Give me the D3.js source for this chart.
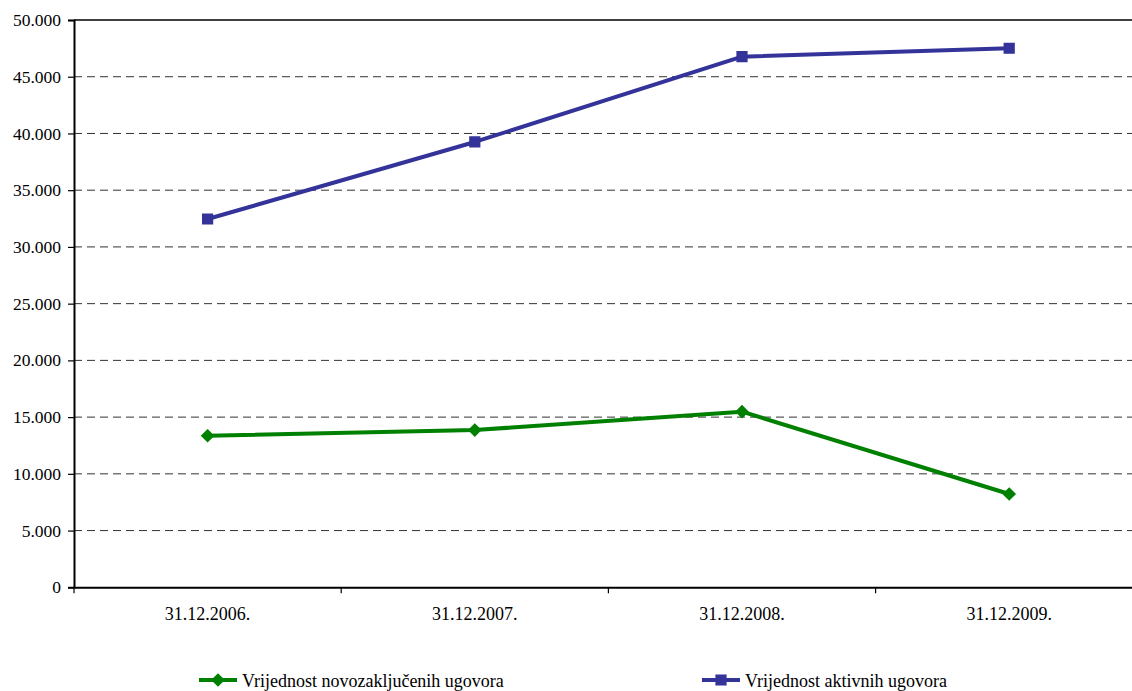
<!DOCTYPE html>
<html>
<head>
<meta charset="utf-8">
<script src="https://cdn.jsdelivr.net/npm/d3@7"></script>
<style>
  html, body { margin: 0; padding: 0; background: #fff; }
  svg { display: block; }
</style>
</head>
<body>
<svg id="chart" width="1132" height="691"></svg>
<script>
// Contract values by reporting date
const categories = ["31.12.2006.", "31.12.2007.", "31.12.2008.", "31.12.2009."];
const newContracts = [13360, 13860, 15480, 8220];     // Vrijednost novozaključenih ugovora
const activeContracts = [32460, 39250, 46770, 47510]; // Vrijednost aktivnih ugovora
const yTicks = [0, 5000, 10000, 15000, 20000, 25000, 30000, 35000, 40000, 45000, 50000];
const seriesNames = ["Vrijednost novozaključenih ugovora", "Vrijednost aktivnih ugovora"];

const FONT = "Liberation Serif";
const svg = d3.select("#chart");
const plotLeft = 74, plotRight = 1142.8, plotTop = 20, plotBottom = 587.3;

const x = d3.scaleBand().domain(categories).range([plotLeft, plotRight]);
const y = d3.scaleLinear().domain([0, 50000]).range([plotBottom, plotTop]);

const fmtY = v => v === 0 ? "0" : (v / 1000).toFixed(0) + ".000";

// Horizontal grid lines
svg.append("g")
  .selectAll("line")
  .data(yTicks.filter(d => d > 0 && d < 50000))
  .join("line")
  .attr("x1", plotLeft).attr("x2", plotRight)
  .attr("y1", d => y(d)).attr("y2", d => y(d))
  .attr("stroke", "#333")
  .attr("stroke-width", 1)
  .attr("stroke-dasharray", "8,5");

// Top border of plot area
svg.append("line")
  .attr("x1", plotLeft).attr("x2", plotRight)
  .attr("y1", y(50000)).attr("y2", y(50000))
  .attr("stroke", "#000").attr("stroke-width", 1.5);

// Y axis
const yAxis = d3.axisLeft(y).tickValues(yTicks).tickFormat(fmtY).tickSize(6).tickPadding(7);
const gy = svg.append("g").attr("transform", `translate(${plotLeft},0)`).call(yAxis)
  .attr("font-family", FONT).attr("font-size", 17.5);
gy.select(".domain").attr("stroke", "#000").attr("stroke-width", 2);
gy.selectAll(".tick line").attr("stroke", "#000").attr("stroke-width", 1.2);
gy.selectAll(".tick text").attr("fill", "#000");

// X axis: ticks between categories
const xAxis = d3.axisBottom(x).tickSize(0).tickPadding(20);
const gx = svg.append("g").attr("transform", `translate(0,${plotBottom})`).call(xAxis)
  .attr("font-family", FONT).attr("font-size", 18);
gx.select(".domain").attr("stroke", "#000").attr("stroke-width", 2);
gx.selectAll(".tick text").attr("fill", "#000");
svg.append("g")
  .selectAll("line")
  .data(categories)
  .join("line")
  .attr("x1", d => x(d)).attr("x2", d => x(d))
  .attr("y1", plotBottom).attr("y2", plotBottom + 6)
  .attr("stroke", "#000").attr("stroke-width", 1.2);
svg.append("line")
  .attr("x1", plotRight).attr("x2", plotRight)
  .attr("y1", plotBottom).attr("y2", plotBottom + 6)
  .attr("stroke", "#000").attr("stroke-width", 1.2);

const cx = d => x(d) + x.bandwidth() / 2;
const line = d3.line().x(d => cx(d.c)).y(d => y(d.v));

const series = [
  { name: seriesNames[0], values: newContracts, color: "#008000", symbol: d3.symbolDiamond2, size: 85 },
  { name: seriesNames[1], values: activeContracts, color: "#333399", symbol: d3.symbolSquare2, size: 120 }
];

series.forEach(s => {
  const pts = categories.map((c, i) => ({ c, v: s.values[i] }));
  svg.append("path")
    .datum(pts)
    .attr("d", line)
    .attr("fill", "none")
    .attr("stroke", s.color)
    .attr("stroke-width", 4)
    .attr("stroke-linejoin", "round");
  svg.append("g")
    .selectAll("path")
    .data(pts)
    .join("path")
    .attr("transform", d => `translate(${cx(d.c)},${y(d.v)})`)
    .attr("d", d3.symbol().type(s.symbol).size(s.size))
    .attr("fill", s.color)
    .attr("stroke", s.color)
    .attr("stroke-width", 1.5);
});

// Legend
const legendX = [199, 702];
const legendY = 680;
series.forEach((s, i) => {
  const g = svg.append("g").attr("transform", `translate(${legendX[i]},${legendY})`);
  g.append("line").attr("x1", 0).attr("x2", 38).attr("y1", 0).attr("y2", 0)
    .attr("stroke", s.color).attr("stroke-width", 4);
  g.append("path")
    .attr("transform", "translate(19,0)")
    .attr("d", d3.symbol().type(s.symbol).size(s.size))
    .attr("fill", s.color).attr("stroke", s.color).attr("stroke-width", 1.5);
  g.append("text")
    .attr("x", 43).attr("y", 6.5)
    .attr("font-family", FONT).attr("font-size", 18)
    .attr("fill", "#000")
    .text(s.name);
});
</script>
</body>
</html>
